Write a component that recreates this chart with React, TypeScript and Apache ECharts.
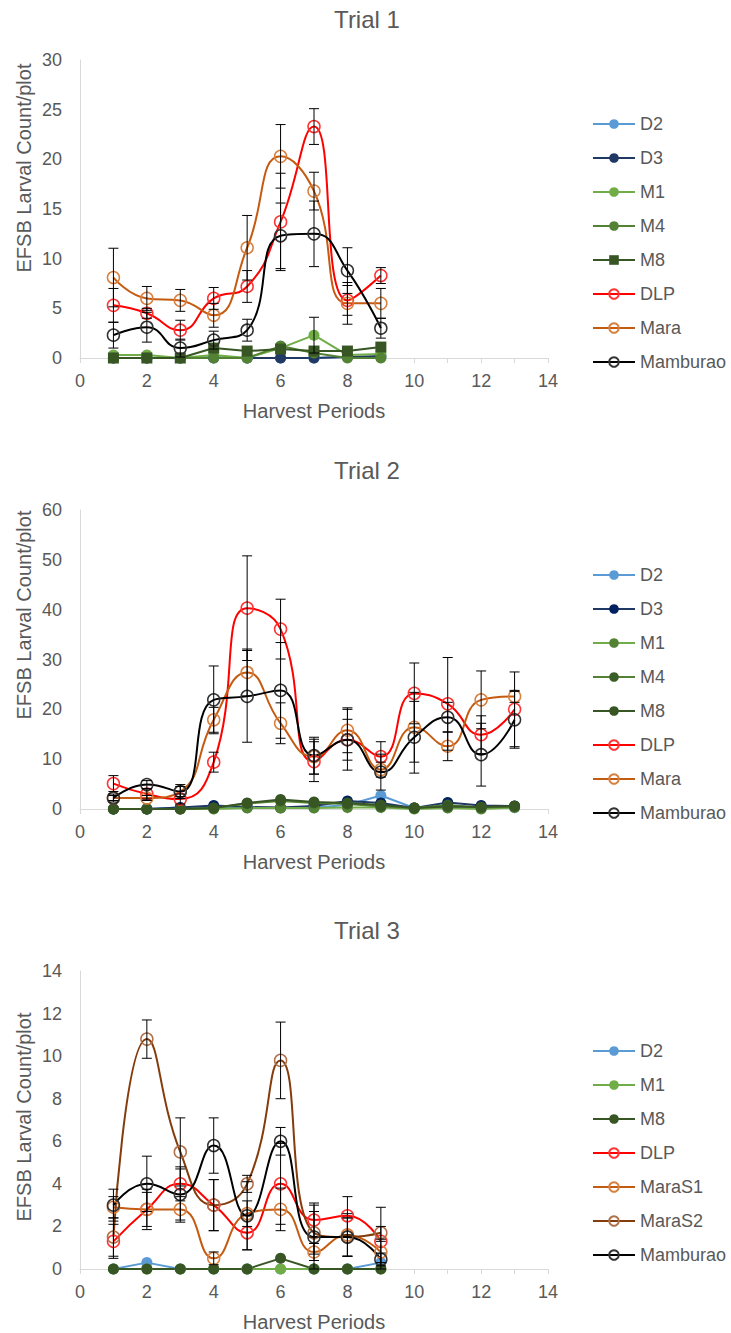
import React, { useEffect, useRef } from 'react';
import * as echarts from 'echarts';

const FONT = '"Liberation Sans", Arial, sans-serif';
const TXT = '#595959';
const AXIS = '#d9d9d9';

// ---------- Trial 1 ----------
const periods1 = [1, 2, 3, 4, 5, 6, 7, 8, 9];
const t1D2 = [0, 0, 0, 0.1, 0, 0, 0, 0.1, 0.1];
const t1D3 = [0, 0, 0, 0, 0, 0, 0, 0.1, 0.2];
const t1M1 = [0.3, 0.3, 0, 0.3, 0, 1.0, 2.3, 0.3, 0.4];
const t1M1Err = [0, 0, 0, 0, 0, 0, 1.8, 0, 0];
const t1M4 = [0, 0, 0, 0, 0, 1.2, 0.5, 0, 0];
const t1M8 = [0, 0, 0, 1.0, 0.7, 0.9, 0.7, 0.7, 1.1];
const t1DLP = [5.3, 4.5, 2.8, 6.0, 7.2, 13.7, 23.3, 5.8, 8.3];
const t1DLPErr = [1.7, 0.5, 1.0, 1.1, 1.6, 4.9, 1.8, 1.5, 0.8];
const t1Mara = [8.1, 6.0, 5.8, 4.3, 11.1, 20.3, 16.8, 5.5, 5.5];
const t1MaraErr = [2.95, 1.2, 1.1, 1.2, 3.25, 3.2, 1.9, 2.1, 1.5];
const t1Mamb = [2.3, 3.1, 1.0, 1.8, 2.8, 12.3, 12.5, 8.8, 3.0];
const t1MambErr = [1.3, 1.5, 0.9, 0.9, 1.1, 3.3, 3.3, 2.3, 1.0];

// ---------- Trial 2 ----------
const periods2 = [1, 2, 3, 4, 5, 6, 7, 8, 9, 10, 11, 12, 13];
const t2D2 = [0, 0, 0.3, 0.3, 0.3, 0.2, 0.3, 0.8, 2.7, 0.2, 0.3, 0.2, 0.3];
const t2D3 = [0, 0, 0.3, 0.7, 0.4, 0.3, 0.6, 1.6, 1.2, 0.2, 1.3, 0.7, 0.6];
const t2M1 = [0, 0, 0, 0, 0.2, 0.2, 0.2, 0.3, 0.3, 0, 0.2, 0, 0.3];
const t2M4 = [0, 0, 0, 0.2, 1.1, 1.6, 1.2, 1.0, 0.5, 0.2, 0.8, 0.3, 0.5];
const t2M8 = [0, 0, 0, 0.2, 1.2, 1.9, 1.4, 1.2, 0.8, 0.2, 0.5, 0.4, 0.6];
const t2DLP = [5.1, 3.0, 2.0, 9.4, 40.3, 36.1, 9.5, 13.9, 10.5, 23.2, 21.1, 14.9, 20.0];
const t2DLPErr = [1.6, 1.0, 1.0, 2.0, 10.5, 6.0, 4.0, 6.1, 3.0, 6.1, 9.3, 3.8, 7.5];
const t2Mara = [2.2, 2.2, 3.5, 17.9, 27.4, 17.2, 10.5, 15.8, 7.9, 16.4, 12.6, 21.9, 22.6];
const t2MaraErr = [0.5, 0.5, 1.0, 2.5, 4.7, 4.1, 3.5, 4.5, 1.5, 7.0, 2.9, 5.8, 1.2];
const t2Mamb = [2.2, 4.9, 3.5, 21.9, 22.6, 23.8, 10.7, 13.9, 7.4, 14.4, 18.4, 10.9, 17.9];
const t2MambErr = [0.8, 0.8, 1.4, 6.8, 9.2, 9.6, 3.7, 4.1, 3.6, 7.2, 3.0, 6.3, 5.7];

// ---------- Trial 3 ----------
const periods3 = [1, 2, 3, 4, 5, 6, 7, 8, 9];
const t3D2 = [0, 0.3, 0, 0, 0, 0, 0, 0, 0.3];
const t3M1 = [0, 0, 0, 0, 0, 0, 0, 0, 0];
const t3M8 = [0, 0, 0, 0, 0, 0.5, 0, 0, 0];
const t3DLP = [1.3, 2.8, 4.0, 3.0, 1.7, 4.0, 2.3, 2.5, 1.3];
const t3DLPErr = [0.8, 0.8, 0.8, 1.2, 0.8, 1.9, 0.8, 0.9, 1.6];
const t3MaraS1 = [2.9, 2.8, 2.8, 0.5, 2.6, 2.8, 0.8, 1.6, 0.8];
const t3MaraS1Err = [0.5, 0.95, 0.6, 0.3, 0.6, 1.0, 0.4, 1.0, 0.5];
const t3MaraS2 = [1.5, 10.8, 5.5, 3.0, 4.0, 9.8, 1.7, 1.5, 1.7];
const t3MaraS2Err = [0.9, 0.9, 1.6, 1.2, 0.4, 1.8, 1.0, 0.9, 0.3];
const t3Mamb = [3.0, 4.0, 3.5, 5.8, 2.5, 6.0, 1.5, 1.5, 0.45];
const t3MambErr = [0.75, 1.3, 1.2, 1.3, 1.6, 0.65, 1.5, 0.9, 0.3];

const yMax = [30, 60, 14];
const yStep = [5, 10, 2];
const titles = ['Trial 1', 'Trial 2', 'Trial 3'];

type Def = {
  name: string;
  color: string;
  mark: string;
  symbol: string;
  hollow?: boolean;
  smooth?: boolean;
  values: number[];
  err?: number[];
};

const trial1: Def[] = [
  { name: 'D2', color: '#5B9BD5', mark: '#5B9BD5', symbol: 'circle', values: t1D2 },
  { name: 'D3', color: '#203864', mark: '#203864', symbol: 'circle', values: t1D3 },
  { name: 'M1', color: '#70AD47', mark: '#70AD47', symbol: 'circle', values: t1M1, err: t1M1Err },
  { name: 'M4', color: '#548235', mark: '#548235', symbol: 'circle', values: t1M4 },
  { name: 'M8', color: '#375623', mark: '#375623', symbol: 'rect', values: t1M8 },
  { name: 'DLP', color: '#FF0000', mark: '#FF3333', symbol: 'circle', hollow: true, smooth: true, values: t1DLP, err: t1DLPErr },
  { name: 'Mara', color: '#C55A11', mark: '#D9803F', symbol: 'circle', hollow: true, smooth: true, values: t1Mara, err: t1MaraErr },
  { name: 'Mamburao', color: '#000000', mark: '#333333', symbol: 'circle', hollow: true, smooth: true, values: t1Mamb, err: t1MambErr },
];

const trial2: Def[] = [
  { name: 'D2 ', color: '#5B9BD5', mark: '#5B9BD5', symbol: 'circle', values: t2D2 },
  { name: 'D3 ', color: '#203864', mark: '#002060', symbol: 'circle', values: t2D3 },
  { name: 'M1 ', color: '#70AD47', mark: '#548235', symbol: 'circle', values: t2M1 },
  { name: 'M4 ', color: '#548235', mark: '#3B5E27', symbol: 'circle', values: t2M4 },
  { name: 'M8 ', color: '#375623', mark: '#375623', symbol: 'circle', values: t2M8 },
  { name: 'DLP ', color: '#FF0000', mark: '#FF3333', symbol: 'circle', hollow: true, smooth: true, values: t2DLP, err: t2DLPErr },
  { name: 'Mara ', color: '#C55A11', mark: '#D9803F', symbol: 'circle', hollow: true, smooth: true, values: t2Mara, err: t2MaraErr },
  { name: 'Mamburao ', color: '#000000', mark: '#333333', symbol: 'circle', hollow: true, smooth: true, values: t2Mamb, err: t2MambErr },
];

const trial3: Def[] = [
  { name: 'D2  ', color: '#5B9BD5', mark: '#5B9BD5', symbol: 'circle', values: t3D2 },
  { name: 'M1  ', color: '#70AD47', mark: '#70AD47', symbol: 'circle', values: t3M1 },
  { name: 'M8  ', color: '#375623', mark: '#375623', symbol: 'circle', values: t3M8 },
  { name: 'DLP  ', color: '#FF0000', mark: '#FF3333', symbol: 'circle', hollow: true, smooth: true, values: t3DLP, err: t3DLPErr },
  { name: 'MaraS1', color: '#C55A11', mark: '#D9803F', symbol: 'circle', hollow: true, smooth: true, values: t3MaraS1, err: t3MaraS1Err },
  { name: 'MaraS2', color: '#843C0C', mark: '#B0704A', symbol: 'circle', hollow: true, smooth: true, values: t3MaraS2, err: t3MaraS2Err },
  { name: 'Mamburao  ', color: '#000000', mark: '#333333', symbol: 'circle', hollow: true, smooth: true, values: t3Mamb, err: t3MambErr },
];

const trials = [
  { defs: trial1, periods: periods1 },
  { defs: trial2, periods: periods2 },
  { defs: trial3, periods: periods3 },
];

// layout
const gridTop = [60, 510, 971];
const gridH = [298, 299, 298];
const titleY = [19, 470, 930];
const yTitleY = [168, 615, 1117];
const legendTop = [110, 561, 1037];

function lineSeries(d: Def, periods: number[], idx: number) {
  return {
    type: 'line',
    name: d.name,
    xAxisIndex: idx,
    yAxisIndex: idx,
    data: periods.map((p, i) => [p, d.values[i]]),
    smooth: d.smooth ? 0.5 : false,
    symbol: d.symbol,
    symbolSize: d.hollow ? 12 : 11,
    showSymbol: true,
    lineStyle: { color: d.color, width: 2 },
    itemStyle: d.hollow
      ? { color: 'rgba(0,0,0,0)', borderColor: d.mark, borderWidth: 1.5 }
      : { color: d.mark },
    emphasis: { disabled: true },
    z: d.hollow ? 3 : 2,
  };
}

function errSeries(d: Def, periods: number[], idx: number) {
  const err = d.err as number[];
  return {
    type: 'custom',
    xAxisIndex: idx,
    yAxisIndex: idx,
    silent: true,
    z: 6,
    data: periods
      .map((p, i) => [p, Math.max(0, d.values[i] - err[i]), d.values[i] + err[i], err[i]])
      .filter((r) => r[3] > 0),
    encode: { x: 0, y: [1, 2] },
    renderItem: (_params: any, api: any) => {
      const x = api.value(0);
      const lo = api.coord([x, api.value(1)]);
      const hi = api.coord([x, api.value(2)]);
      const w = 5;
      const st = { stroke: '#000', lineWidth: 1 };
      return {
        type: 'group',
        children: [
          { type: 'line', shape: { x1: hi[0], y1: hi[1], x2: lo[0], y2: lo[1] }, style: st },
          { type: 'line', shape: { x1: hi[0] - w, y1: hi[1], x2: hi[0] + w, y2: hi[1] }, style: st },
          { type: 'line', shape: { x1: lo[0] - w, y1: lo[1], x2: lo[0] + w, y2: lo[1] }, style: st },
        ],
      };
    },
  };
}

export default function App() {
  const ref = useRef<HTMLDivElement>(null);
  useEffect(() => {
    if (!ref.current) return;
    const chart = echarts.init(ref.current, undefined, { renderer: 'svg' });
    const series: any[] = [];
    trials.forEach((t, idx) => {
      t.defs.forEach((d) => series.push(lineSeries(d, t.periods, idx)));
      t.defs.forEach((d) => {
        if (d.err) series.push(errSeries(d, t.periods, idx));
      });
    });
    const graphics: any[] = [];
    [0, 1, 2].forEach((i) => {
      graphics.push({
        type: 'text',
        x: 367,
        y: titleY[i],
        style: { text: titles[i], fontSize: 24, fill: TXT, fontFamily: FONT, align: 'center', verticalAlign: 'middle' },
      });
      graphics.push({
        type: 'text',
        x: 24,
        y: yTitleY[i],
        rotation: Math.PI / 2,
        style: {
          text: 'EFSB Larval Count/plot',
          fontSize: 20,
          fill: TXT,
          fontFamily: FONT,
          align: 'center',
          verticalAlign: 'middle',
        },
      });
    });
    chart.setOption({
      animation: false,
      textStyle: { fontFamily: FONT },
      grid: [0, 1, 2].map((i) => ({ left: 80, top: gridTop[i], width: 468, height: gridH[i] })),
      xAxis: [0, 1, 2].map((i) => ({
        type: 'value',
        gridIndex: i,
        min: 0,
        max: 14,
        interval: 1,
        name: 'Harvest Periods',
        nameLocation: 'middle',
        nameGap: 43,
        nameTextStyle: { fontSize: 20, color: TXT, fontFamily: FONT },
        axisLine: { show: true, lineStyle: { color: AXIS, width: 1 } },
        axisTick: { show: true, length: 5, lineStyle: { color: AXIS } },
        splitLine: { show: false },
        axisLabel: {
          fontSize: 18,
          color: TXT,
          margin: 14,
          fontFamily: FONT,
          formatter: (v: number) => (v % 2 === 0 ? String(v) : ''),
        },
      })),
      yAxis: [0, 1, 2].map((i) => ({
        type: 'value',
        gridIndex: i,
        min: 0,
        max: yMax[i],
        interval: yStep[i],
        axisLine: { show: true, lineStyle: { color: AXIS, width: 1 } },
        axisTick: { show: false },
        splitLine: { show: false },
        axisLabel: { fontSize: 18, color: TXT, margin: 18, fontFamily: FONT },
      })),
      legend: trials.map((t, i) => ({
        orient: 'vertical',
        left: 587,
        top: legendTop[i],
        itemWidth: 42,
        itemHeight: 12,
        itemGap: 16,
        data: t.defs.map((d) => d.name),
        formatter: (n: string) => n.trim(),
        textStyle: { fontSize: 18, color: TXT, fontFamily: FONT },
        selectedMode: false,
      })),
      graphic: graphics,
      series,
    });
    return () => chart.dispose();
  }, []);
  return <div ref={ref} style={{ position: 'absolute', left: 0, top: 0, width: 731, height: 1333 }} />;
}
